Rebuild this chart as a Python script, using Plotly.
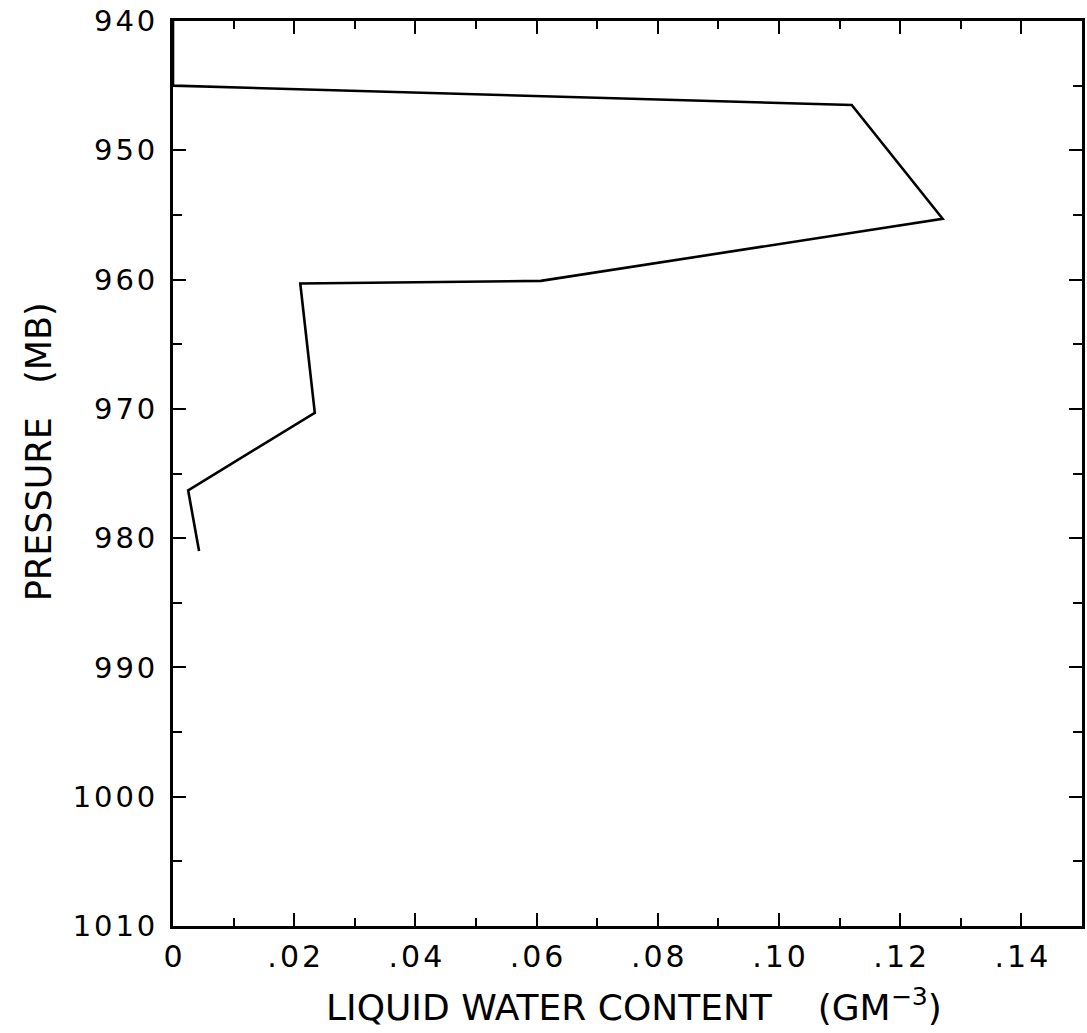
import plotly.graph_objects as go

# Liquid water content profile vs. pressure
lwc = [0.0, 0.0, 0.112, 0.127, 0.0607, 0.021, 0.0234, 0.0025, 0.0043]
pressure = [940, 945, 946.5, 955.3, 960.1, 960.3, 970.3, 976.3, 981.0]

x_tickvals = [0, 0.02, 0.04, 0.06, 0.08, 0.10, 0.12, 0.14]
x_ticktext = ["0", ".02", ".04", ".06", ".08", ".10", ".12", ".14"]
y_tickvals = [940, 950, 960, 970, 980, 990, 1000, 1010]
y_ticktext = ["940", "950", "960", "970", "980", "990", "1000", "1010"]

FONT = "DejaVu Sans"
HAIR = "\u200a"  # plotter-style letter spacing for tick labels


def spaced(label):
    return HAIR.join(label)


fig = go.Figure()
fig.add_trace(go.Scatter(
    x=lwc, y=pressure, mode="lines",
    line=dict(color="black", width=2.6),
    showlegend=False, hoverinfo="skip",
))

axis_common = dict(
    showgrid=False, zeroline=False,
    showline=True, linecolor="black", linewidth=3,
    mirror="ticks", ticks="inside", tickcolor="black",
    ticklen=13, tickwidth=2.2,
)

fig.update_layout(
    width=1087, height=1033,
    margin=dict(l=173, r=2, t=21, b=107),
    paper_bgcolor="white", plot_bgcolor="white",
    xaxis=dict(
        range=[0, 0.15],
        tickvals=x_tickvals, ticktext=[spaced(t) for t in x_ticktext],
        tickfont=dict(family=FONT, size=30, color="black"),
        minor=dict(dtick=0.01, ticks="inside", ticklen=8, tickwidth=2, tickcolor="black"),
        ticklabelstandoff=2,
        **axis_common,
    ),
    yaxis=dict(
        range=[1010, 940],
        tickvals=y_tickvals, ticktext=[spaced(t) for t in y_ticktext],
        tickfont=dict(family=FONT, size=29, color="black"),
        minor=dict(dtick=5, ticks="inside", ticklen=9, tickwidth=2, tickcolor="black"),
        ticklabelstandoff=9,
        **axis_common,
    ),
    annotations=[
        dict(
            text="LIQUID WATER CONTENT&nbsp;&nbsp;&nbsp;&nbsp;(GM<sup>−3</sup>)",
            xref="paper", yref="paper", x=0.507, y=-0.06,
            xanchor="center", yanchor="top", showarrow=False,
            font=dict(family=FONT, size=36, color="black"),
        ),
        dict(
            text="PRESSURE&nbsp;&nbsp;&nbsp;(MB)",
            xref="paper", yref="paper", x=-0.148, y=0.524,
            xanchor="center", yanchor="middle", textangle=-90, showarrow=False,
            font=dict(family=FONT, size=35, color="black"),
        ),
    ],
)

fig.write_html("out.html")
